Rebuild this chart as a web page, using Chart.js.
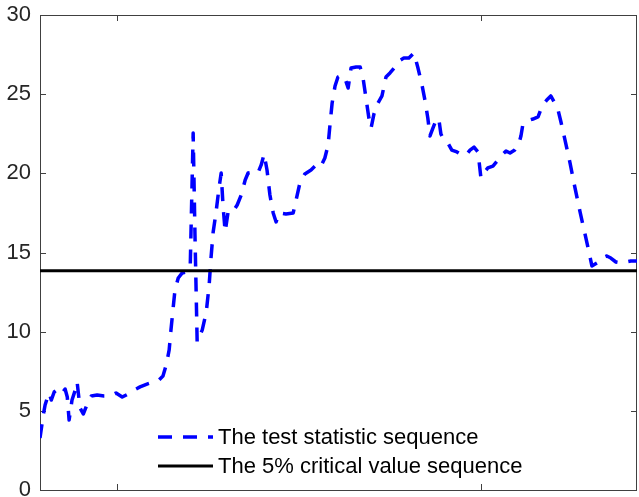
<!DOCTYPE html>
<html>
<head>
<meta charset="utf-8">
<script src="https://cdn.jsdelivr.net/npm/chart.js@4"></script>
<style>
  html, body { margin: 0; padding: 0; background: #fff; }
  canvas { display: block; }
</style>
</head>
<body>
<canvas id="seqChart" width="639" height="497"></canvas>
<script>
const statYears = [
  1997.88, 1997.97, 1998.02, 1998.08, 1998.13, 1998.19, 1998.27, 1998.38, 1998.49, 1998.57,
  1998.63, 1998.68, 1998.76, 1998.85, 1998.90, 1998.98, 1999.07, 1999.18, 1999.29, 1999.45,
  1999.64, 1999.81, 1999.97, 2000.14, 2000.30, 2000.47, 2000.63, 2000.82, 2000.99, 2001.15,
  2001.26, 2001.35, 2001.43, 2001.48, 2001.54, 2001.59, 2001.68, 2001.79, 2001.90, 2002.01,
  2002.09, 2002.14, 2002.20, 2002.34, 2002.45, 2002.53, 2002.58, 2002.64, 2002.72, 2002.80,
  2002.86, 2002.91, 2002.97, 2003.05, 2003.16, 2003.30, 2003.41, 2003.52, 2003.60, 2003.74,
  2003.87, 2003.96, 2004.04, 2004.12, 2004.20, 2004.29, 2004.37, 2004.45, 2004.64, 2004.84,
  2004.92, 2005.03, 2005.16, 2005.33, 2005.44, 2005.58, 2005.71, 2005.80, 2005.85, 2005.91,
  2005.99, 2006.07, 2006.18, 2006.26, 2006.35, 2006.43, 2006.57, 2006.68, 2006.76, 2006.84,
  2006.92, 2006.98, 2007.06, 2007.17, 2007.28, 2007.39, 2007.50, 2007.64, 2007.75, 2007.88,
  2008.02, 2008.16, 2008.27, 2008.38, 2008.46, 2008.54, 2008.60, 2008.68, 2008.79, 2008.85,
  2008.90, 2008.98, 2009.09, 2009.20, 2009.34, 2009.48, 2009.59, 2009.70, 2009.81, 2009.92,
  2010.00, 2010.08, 2010.19, 2010.33, 2010.47, 2010.58, 2010.69, 2010.80, 2010.93, 2011.04,
  2011.10, 2011.15, 2011.26, 2011.43, 2011.57, 2011.68, 2011.81, 2011.92, 2012.03, 2012.12,
  2012.20, 2012.31, 2012.45, 2012.58, 2012.72, 2012.86, 2012.97, 2013.05, 2013.19, 2013.32,
  2013.46, 2013.57, 2013.71, 2013.85, 2013.98, 2014.12, 2014.29
];
const statValues = [
  3.28, 4.74, 5.37, 5.81, 6.13, 5.68, 6.19, 6.38, 6.13, 6.38,
  5.87, 4.42, 5.68, 6.32, 6.82, 5.18, 4.80, 5.43, 5.94, 6.00,
  5.94, 5.94, 6.13, 5.87, 6.06, 6.32, 6.51, 6.69, 6.82, 6.95,
  7.20, 7.90, 8.84, 10.11, 11.50, 12.63, 13.39, 13.71, 13.77, 14.15,
  22.55, 16.11, 9.35, 10.11, 11.24, 12.95, 14.65, 16.30, 17.56, 19.07,
  20.02, 18.00, 16.30, 17.56, 17.50, 18.00, 18.63, 19.58, 20.02, 20.08,
  20.02, 20.53, 21.22, 20.21, 18.63, 17.50, 16.93, 17.50, 17.43, 17.50,
  18.32, 19.45, 19.96, 20.21, 20.46, 20.34, 20.97, 21.79, 23.05, 24.44,
  25.52, 26.08, 26.21, 26.02, 25.39, 26.65, 26.72, 26.72, 26.02, 24.76,
  23.50, 22.86, 23.75, 24.44, 24.89, 26.08, 26.34, 26.72, 27.10, 27.28,
  27.28, 27.60, 26.65, 25.58, 24.63, 23.50, 22.36, 22.86, 23.50, 23.31,
  22.48, 22.11, 21.92, 21.47, 21.35, 21.16, 21.16, 21.47, 21.66, 21.35,
  19.71, 20.02, 20.34, 20.46, 20.84, 21.16, 21.41, 21.28, 21.47, 21.85,
  22.36, 23.05, 23.31, 23.43, 23.56, 24.25, 24.63, 24.89, 24.44, 24.00,
  23.24, 22.11, 20.65, 19.14, 17.62, 16.17, 15.03, 14.15, 14.34, 14.65,
  14.78, 14.65, 14.40, 14.34, 14.40, 14.46, 14.46
];
const critYears = [1997.88, 2014.29];
const critValues = [13.85, 13.85];
const seriesLabels = ['The test statistic sequence', 'The 5% critical value sequence'];
const yTicks = [0, 5, 10, 15, 20, 25, 30];
const xTicks = [2000, 2010];

const axisColor = '#404040';
const fontFamily = '"Liberation Sans", Arial, sans-serif';

// box round the plot with inward tick marks, Matlab style
const framePlugin = {
    id: 'frame',
    beforeDatasetsDraw(chart) {
        const { ctx, chartArea: a, scales } = chart;
        ctx.save();
        ctx.strokeStyle = axisColor;
        ctx.lineWidth = 1;
        ctx.strokeRect(a.left + 0.5, a.top + 0.5, a.right - a.left - 1, a.bottom - a.top);
        const len = 6;
        ctx.beginPath();
        yTicks.forEach(v => {
            const y = Math.round(scales.y.getPixelForValue(v)) + 0.5;
            ctx.moveTo(a.left, y); ctx.lineTo(a.left + len, y);
            ctx.moveTo(a.right, y); ctx.lineTo(a.right - len, y);
        });
        xTicks.forEach(v => {
            const x = Math.round(scales.x.getPixelForValue(v)) + 0.5;
            ctx.moveTo(x, a.bottom); ctx.lineTo(x, a.bottom - len);
            ctx.moveTo(x, a.top); ctx.lineTo(x, a.top + len);
        });
        ctx.stroke();
        ctx.restore();
    }
};

// legend inside the plot, lower middle, no box
const legendPlugin = {
    id: 'insideLegend',
    afterDraw(chart) {
        const { ctx } = chart;
        const rows = [437, 466];
        ctx.save();
        chart.data.datasets.forEach((ds, i) => {
            ctx.beginPath();
            ctx.strokeStyle = ds.borderColor;
            ctx.lineWidth = ds.borderWidth;
            ctx.setLineDash(ds.borderDash || []);
            ctx.moveTo(158, rows[i]);
            ctx.lineTo(213, rows[i]);
            ctx.stroke();
            ctx.setLineDash([]);
            ctx.fillStyle = '#000';
            ctx.font = '22px ' + fontFamily;
            ctx.textBaseline = 'middle';
            ctx.fillText(ds.label, 218, rows[i] + 1);
        });
        ctx.restore();
    }
};

const ctx = document.getElementById('seqChart').getContext('2d');
new Chart(ctx, {
    type: 'line',
    data: {
        datasets: [
            {
                label: seriesLabels[0],
                data: statYears.map((t, i) => ({ x: t, y: statValues[i] })),
                borderColor: '#0000ff',
                borderWidth: 3.5,
                borderDash: [14, 11],
                borderJoinStyle: 'round',
                pointRadius: 0, tension: 0, fill: false, order: 1
            },
            {
                label: seriesLabels[1],
                data: critYears.map((t, i) => ({ x: t, y: critValues[i] })),
                borderColor: '#000000',
                borderWidth: 3,
                pointRadius: 0, tension: 0, fill: false, order: 0
            }
        ]
    },
    options: {
        responsive: false,
        animation: false,
        devicePixelRatio: 1,
        layout: { padding: { top: 15, right: 2, bottom: 0, left: 0 } },
        plugins: { legend: { display: false }, tooltip: { enabled: false } },
        scales: {
            x: {
                type: 'linear',
                min: 1997.88, max: 2014.29,
                ticks: { display: false },
                grid: { display: false, drawTicks: false },
                border: { display: false },
                afterFit(scale) {
                    scale.height = 7;
                    scale.paddingLeft = 0; scale.paddingRight = 0;
                }
            },
            y: {
                min: 0, max: 30,
                ticks: {
                    stepSize: 5, padding: 9, color: '#262626',
                    font: { family: fontFamily, size: 22 }
                },
                grid: { display: false, drawTicks: false },
                border: { display: false },
                afterFit(scale) {
                    scale.width = 40;
                    // tick labels may spill over the plot edges, as in the original
                    scale.paddingTop = 0; scale.paddingBottom = 0;
                }
            }
        }
    },
    plugins: [framePlugin, legendPlugin]
});
</script>
</body>
</html>
